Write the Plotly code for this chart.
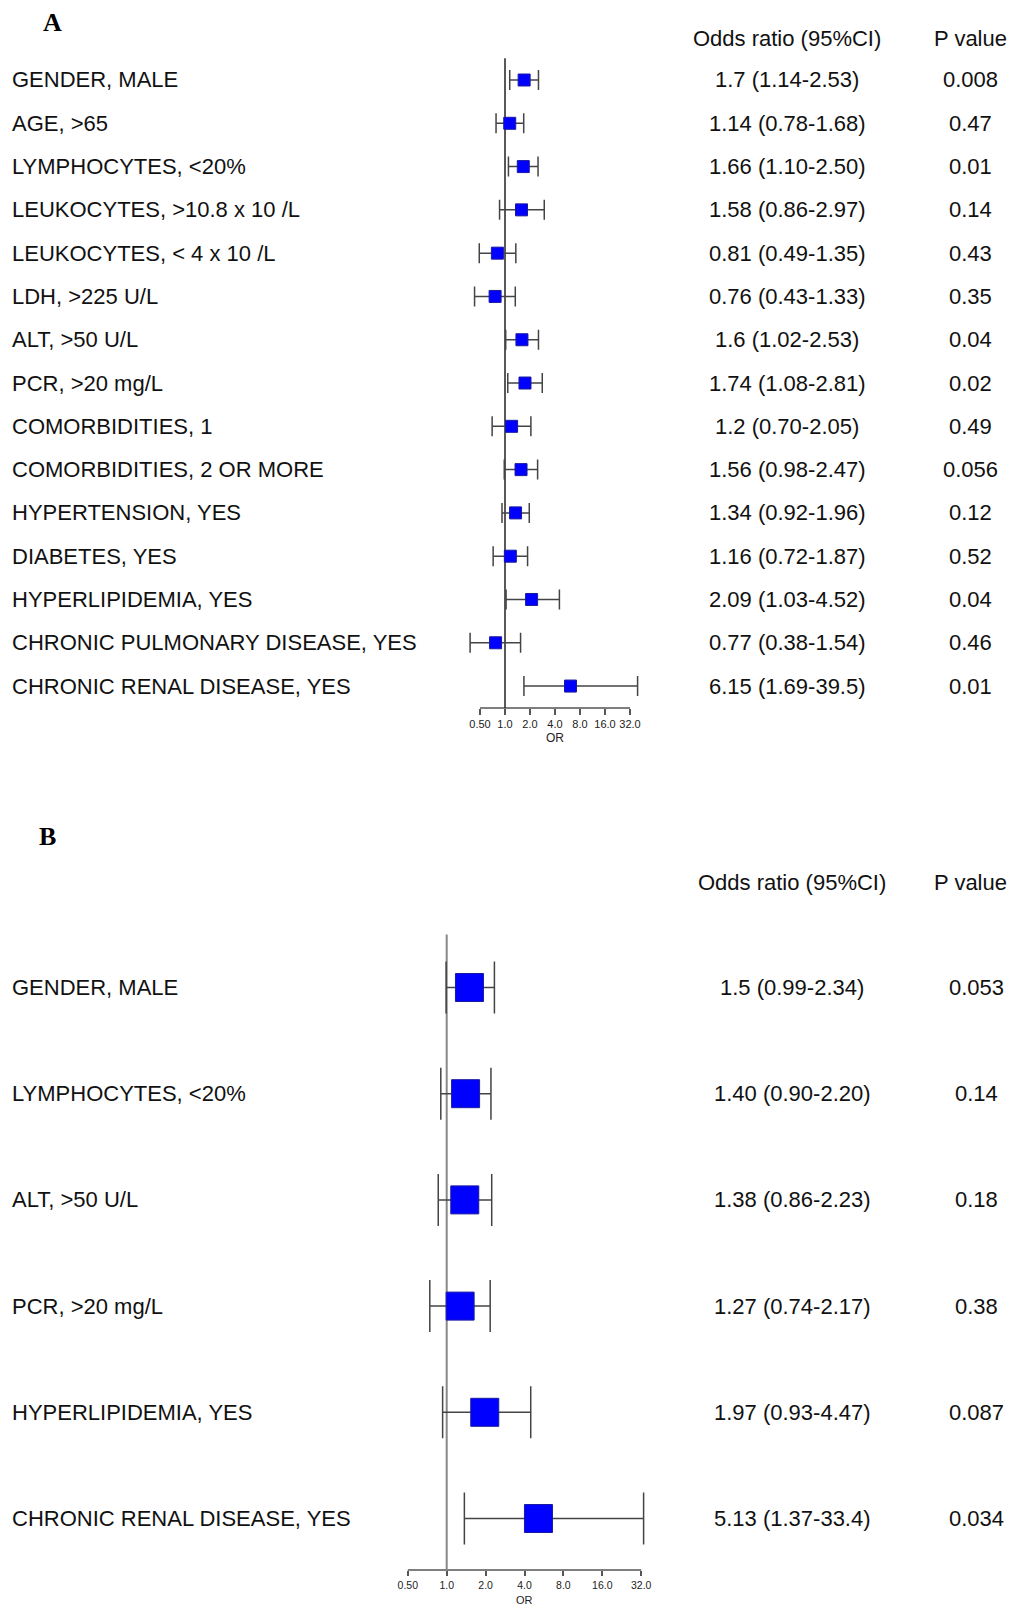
import math
import plotly.graph_objects as go

# ---------------- data ----------------
labels_a = ["GENDER, MALE", "AGE, >65", "LYMPHOCYTES, <20%", "LEUKOCYTES, >10.8 x 10 /L",
            "LEUKOCYTES, < 4 x 10 /L", "LDH, >225 U/L", "ALT, >50 U/L", "PCR, >20 mg/L",
            "COMORBIDITIES, 1", "COMORBIDITIES, 2 OR MORE", "HYPERTENSION, YES",
            "DIABETES, YES", "HYPERLIPIDEMIA, YES", "CHRONIC PULMONARY DISEASE, YES",
            "CHRONIC RENAL DISEASE, YES"]
or_a = [1.7, 1.14, 1.66, 1.58, 0.81, 0.76, 1.6, 1.74, 1.2, 1.56, 1.34, 1.16, 2.09, 0.77, 6.15]
lo_a = [1.14, 0.78, 1.10, 0.86, 0.49, 0.43, 1.02, 1.08, 0.70, 0.98, 0.92, 0.72, 1.03, 0.38, 1.69]
hi_a = [2.53, 1.68, 2.50, 2.97, 1.35, 1.33, 2.53, 2.81, 2.05, 2.47, 1.96, 1.87, 4.52, 1.54, 39.5]
ortext_a = ["1.7 (1.14-2.53)", "1.14 (0.78-1.68)", "1.66 (1.10-2.50)", "1.58 (0.86-2.97)",
            "0.81 (0.49-1.35)", "0.76 (0.43-1.33)", "1.6 (1.02-2.53)", "1.74 (1.08-2.81)",
            "1.2 (0.70-2.05)", "1.56 (0.98-2.47)", "1.34 (0.92-1.96)", "1.16 (0.72-1.87)",
            "2.09 (1.03-4.52)", "0.77 (0.38-1.54)", "6.15 (1.69-39.5)"]
p_a = ["0.008", "0.47", "0.01", "0.14", "0.43", "0.35", "0.04", "0.02", "0.49", "0.056",
       "0.12", "0.52", "0.04", "0.46", "0.01"]

labels_b = ["GENDER, MALE", "LYMPHOCYTES, <20%", "ALT, >50 U/L", "PCR, >20 mg/L",
            "HYPERLIPIDEMIA, YES", "CHRONIC RENAL DISEASE, YES"]
or_b = [1.5, 1.40, 1.38, 1.27, 1.97, 5.13]
lo_b = [0.99, 0.90, 0.86, 0.74, 0.93, 1.37]
hi_b = [2.34, 2.20, 2.23, 2.17, 4.47, 33.4]
ortext_b = ["1.5 (0.99-2.34)", "1.40 (0.90-2.20)", "1.38 (0.86-2.23)", "1.27 (0.74-2.17)",
            "1.97 (0.93-4.47)", "5.13 (1.37-33.4)"]
p_b = ["0.053", "0.14", "0.18", "0.38", "0.087", "0.034"]

tick_vals = [0.5, 1, 2, 4, 8, 16, 32]
tick_text = ["0.50", "1.0", "2.0", "4.0", "8.0", "16.0", "32.0"]

# ---------------- layout geometry ----------------
W, H = 1010, 1607
FONT = "Liberation Sans, Arial, sans-serif"
TXT = 22

def py(px):
    return 1 - px / H

fig = go.Figure()

panels = [
    dict(lab=labels_a, orv=or_a, lo=lo_a, hi=hi_a, ot=ortext_a, p=p_a,
         xa="x", ya="y", one_px=505.0, dbl_px=25.0, xdom=(440, 665),
         row0=80.0, rowsp=43.29, ytop=20, ybot=730, axis_px=708.0,
         msize=12, capw=10, refcol="#222222", refw=1.5, ticklen=6,
         or_x=787, p_x=970, p_head_x=970, head_px=38, or_lbl_px=738,
         tickfs=11, orfs=12),
    dict(lab=labels_b, orv=or_b, lo=lo_b, hi=hi_b, ot=ortext_b, p=p_b,
         xa="x2", ya="y2", one_px=446.7, dbl_px=38.9, xdom=(380, 665),
         row0=987.5, rowsp=106.2, ytop=900, ybot=1590, axis_px=1570.0,
         msize=28, capw=26, refcol="#888888", refw=2, ticklen=5,
         or_x=792, p_x=976, p_head_x=970, head_px=882, or_lbl_px=1600,
         tickfs=10.5, orfs=11),
]

annotations = []
for k, P in enumerate(panels):
    n = len(P["lab"])
    rows = list(range(n))
    pxdec = P["dbl_px"] / math.log10(2)
    xr = [-(P["one_px"] - P["xdom"][0]) / pxdec, (P["xdom"][1] - P["one_px"]) / pxdec]
    ytop_idx = -(P["row0"] - P["ytop"]) / P["rowsp"]
    ybot_idx = (n - 1) + (P["ybot"] - (P["row0"] + (n - 1) * P["rowsp"])) / P["rowsp"]
    axis_idx = (n - 1) + (P["axis_px"] - (P["row0"] + (n - 1) * P["rowsp"])) / P["rowsp"]

    # axis line from first to last tick
    fig.add_trace(go.Scatter(x=[tick_vals[0], tick_vals[-1]], y=[axis_idx, axis_idx],
                             mode="lines", line=dict(color="#555555", width=1.5),
                             xaxis=P["xa"], yaxis=P["ya"], hoverinfo="skip"))
    # reference line at OR = 1
    fig.add_trace(go.Scatter(x=[1, 1], y=[-0.5, axis_idx], mode="lines",
                             line=dict(color=P["refcol"], width=P["refw"]),
                             xaxis=P["xa"], yaxis=P["ya"], hoverinfo="skip"))
    # point estimates with CI
    fig.add_trace(go.Scatter(
        x=P["orv"], y=rows, mode="markers",
        marker=dict(symbol="square", size=P["msize"], color="#0000ff",
                    line=dict(color="#1a1aa0", width=1)),
        error_x=dict(type="data", symmetric=False,
                     array=[h - o for h, o in zip(P["hi"], P["orv"])],
                     arrayminus=[o - l for o, l in zip(P["orv"], P["lo"])],
                     color="#444444", thickness=1.5, width=P["capw"]),
        xaxis=P["xa"], yaxis=P["ya"]))

    xkey = "xaxis" if k == 0 else "xaxis2"
    ykey = "yaxis" if k == 0 else "yaxis2"
    fig.update_layout(**{
        xkey: dict(type="log", domain=[P["xdom"][0] / W, P["xdom"][1] / W], range=xr,
                   anchor="free", position=py(P["axis_px"]),
                   tickvals=tick_vals, ticktext=tick_text, ticks="outside",
                   ticklen=P["ticklen"], tickwidth=1.5, tickcolor="#555555",
                   showgrid=False, zeroline=False, showline=False,
                   tickfont=dict(family=FONT, size=P["tickfs"], color="#222"),
                   fixedrange=True),
        ykey: dict(domain=[py(P["ybot"]), py(P["ytop"])], range=[ybot_idx, ytop_idx],
                   visible=False, fixedrange=True),
    })

    yref = "y" if k == 0 else "y2"
    for i in rows:
        annotations.append(dict(x=10 / W, xref="paper", y=i, yref=yref, text=P["lab"][i],
                                xanchor="left", yanchor="middle", showarrow=False,
                                font=dict(family=FONT, size=TXT, color="#111")))
        annotations.append(dict(x=P["or_x"] / W, xref="paper", y=i, yref=yref, text=P["ot"][i],
                                xanchor="center", yanchor="middle", showarrow=False,
                                font=dict(family=FONT, size=TXT, color="#111")))
        annotations.append(dict(x=P["p_x"] / W, xref="paper", y=i, yref=yref, text=P["p"][i],
                                xanchor="center", yanchor="middle", showarrow=False,
                                font=dict(family=FONT, size=TXT, color="#111")))
    annotations.append(dict(x=P["or_x"] / W, xref="paper", y=py(P["head_px"]), yref="paper",
                            text="Odds ratio (95%CI)", xanchor="center", yanchor="middle",
                            showarrow=False, font=dict(family=FONT, size=TXT, color="#111")))
    annotations.append(dict(x=P["p_head_x"] / W, xref="paper", y=py(P["head_px"]), yref="paper",
                            text="P value", xanchor="center", yanchor="middle",
                            showarrow=False, font=dict(family=FONT, size=TXT, color="#111")))
    xref = "x" if k == 0 else "x2"
    annotations.append(dict(x=math.log10(math.sqrt(tick_vals[0] * tick_vals[-1])), xref=xref,
                            y=py(P["or_lbl_px"]), yref="paper", text="OR",
                            xanchor="center", yanchor="middle", showarrow=False,
                            font=dict(family=FONT, size=P["orfs"], color="#222")))

annotations.append(dict(x=52 / W, xref="paper", y=py(23), yref="paper", text="<b>A</b>",
                        showarrow=False, xanchor="center", yanchor="middle",
                        font=dict(family="Liberation Serif, Times New Roman, serif", size=26,
                                  color="#000")))
annotations.append(dict(x=47 / W, xref="paper", y=py(836), yref="paper", text="<b>B</b>",
                        showarrow=False, xanchor="center", yanchor="middle",
                        font=dict(family="Liberation Serif, Times New Roman, serif", size=26,
                                  color="#000")))

fig.update_layout(width=W, height=H, margin=dict(l=0, r=0, t=0, b=0),
                  paper_bgcolor="white", plot_bgcolor="white", showlegend=False,
                  annotations=annotations)

fig.write_html("out.html", config={"displayModeBar": False},
               post_script="document.body.style.margin='0';document.body.style.overflow='hidden';")
